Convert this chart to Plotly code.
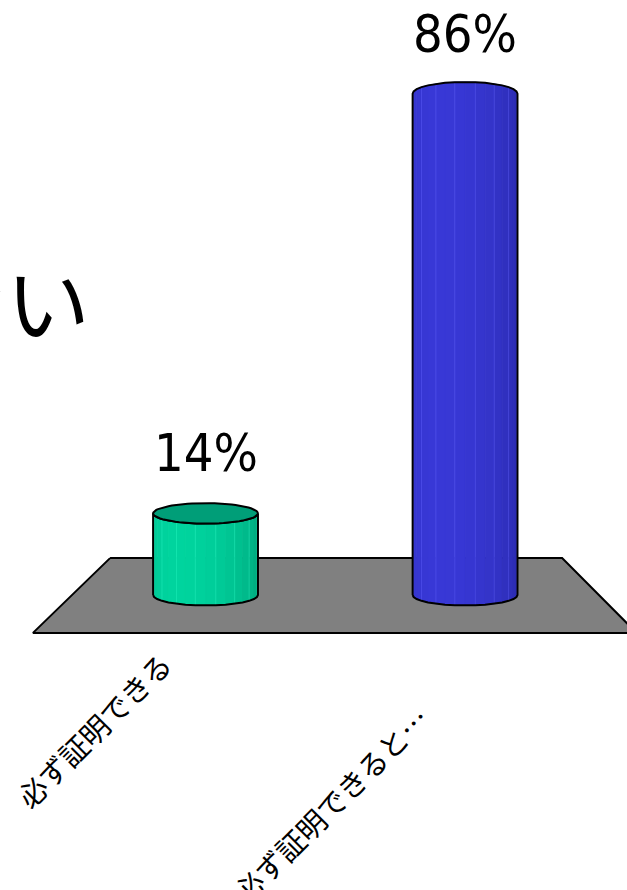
import numpy as np
import plotly.graph_objects as go

# ---------------- data ----------------
categories = ["必ず証明できる", "必ず証明できると…"]
values = [14, 86]
value_labels = ["14%", "86%"]
title_fragment = "ない"

# ---------------- styles ----------------
body_light = [(0, 212, 158), (56, 56, 214)]
body_dark = [(0, 150, 112), (38, 38, 160)]
top_color = ["#009E78", "#2F2FC0"]
floor_color = "#808080"

# geometry (data units)
HALF_W = 0.202          # half width of cylinder (x units)
RY_BOTTOM = 1.8         # bottom ellipse half height (value units)
RY_TOP = [1.75, -2.0]   # top ellipse half height (negative: seen from below)
N_FACETS = 16

fig = go.Figure()

# floor (trapezoid) in data coordinates
floor_x = [-0.368, 1.374, 1.661, -0.665, -0.368]
floor_y = [6.33, 6.33, -6.5, -6.5, 6.33]
fig.add_trace(go.Scatter(x=floor_x, y=floor_y, mode="lines", fill="toself",
                         fillcolor=floor_color, line=dict(color="black", width=2),
                         hoverinfo="skip"))


def rgb(c):
    return "rgb(%d,%d,%d)" % tuple(int(round(v)) for v in c)


theta = np.linspace(np.pi, 0, N_FACETS + 1)
light_dir = np.deg2rad(120)

for i, (cat, v) in enumerate(zip(categories, values)):
    cx = i
    xs = cx + HALF_W * np.cos(theta)
    bot = -RY_BOTTOM * np.sin(theta)
    top = v - RY_TOP[i] * np.sin(theta)
    # facets
    for k in range(N_FACETS):
        tm = 0.5 * (theta[k] + theta[k + 1])
        t = (np.cos(tm - light_dir) + 1) / 2
        col = [body_dark[i][j] + (body_light[i][j] - body_dark[i][j]) * t for j in range(3)]
        px = [xs[k], xs[k + 1], xs[k + 1], xs[k], xs[k]]
        py = [bot[k], bot[k + 1], top[k + 1], top[k], bot[k]]
        fig.add_trace(go.Scatter(x=px, y=py, mode="lines", fill="toself",
                                 fillcolor=rgb(col), line=dict(color=rgb(col), width=0.8),
                                 hoverinfo="skip"))
    # faint facet stripes
    sx, sy = [], []
    for k in range(1, N_FACETS, 2):
        sx += [xs[k], xs[k], None]
        sy += [bot[k], top[k], None]
    lc = [min(255, body_light[i][j] + 40) for j in range(3)]
    fig.add_trace(go.Scatter(x=sx, y=sy, mode="lines",
                             line=dict(color=rgb(lc), width=0.7), opacity=0.6,
                             hoverinfo="skip"))
    # body outline
    ox = list(xs) + list(xs[::-1]) + [xs[0]]
    oy = list(bot) + list(top[::-1]) + [bot[0]]
    fig.add_trace(go.Scatter(x=ox, y=oy, mode="lines",
                             line=dict(color="black", width=2), hoverinfo="skip"))
    # top ellipse (only visible when seen from above)
    if RY_TOP[i] > 0:
        full = np.linspace(0, 2 * np.pi, 73)
        fig.add_trace(go.Scatter(x=cx + HALF_W * np.cos(full), y=v + RY_TOP[i] * np.sin(full),
                                 mode="lines", fill="toself", fillcolor=top_color[i],
                                 line=dict(color="black", width=2), hoverinfo="skip"))

annotations = []
# value labels
for i, (v, lab) in enumerate(zip(values, value_labels)):
    annotations.append(dict(x=i, y=v, xref="x", yref="y", text=lab, showarrow=False,
                            yanchor="middle", yshift=60,
                            font=dict(family="DejaVu Sans Condensed, Liberation Sans Narrow, sans-serif",
                                      size=52, color="black")))
# category labels (rotated)
cat_xshift = [-113, -135]
cat_y = [0.180, 0.097]
for i, cat in enumerate(categories):
    annotations.append(dict(x=i, y=cat_y[i], xref="x", yref="paper", text=cat,
                            showarrow=False, textangle=-45, xshift=cat_xshift[i],
                            xanchor="center", yanchor="middle",
                            font=dict(family="Noto Sans CJK JP", size=29, color="black")))
# title fragment (cut off at left edge)
annotations.append(dict(x=92 / 627, y=1 - 300 / 890, xref="paper", yref="paper",
                        text=title_fragment, showarrow=False, xanchor="right",
                        yanchor="middle",
                        font=dict(family="Noto Sans CJK JP", size=84, color="black")))

fig.update_layout(
    width=627, height=890,
    margin=dict(l=0, r=0, t=0, b=0),
    paper_bgcolor="white", plot_bgcolor="white",
    showlegend=False,
    xaxis=dict(range=[-0.792, 1.624], visible=False, fixedrange=True),
    yaxis=dict(range=[-50.6, 102.06], visible=False, fixedrange=True),
    annotations=annotations,
)

fig.write_html("out.html", config={"displayModeBar": False},
               post_script="document.body.style.margin='0';")
